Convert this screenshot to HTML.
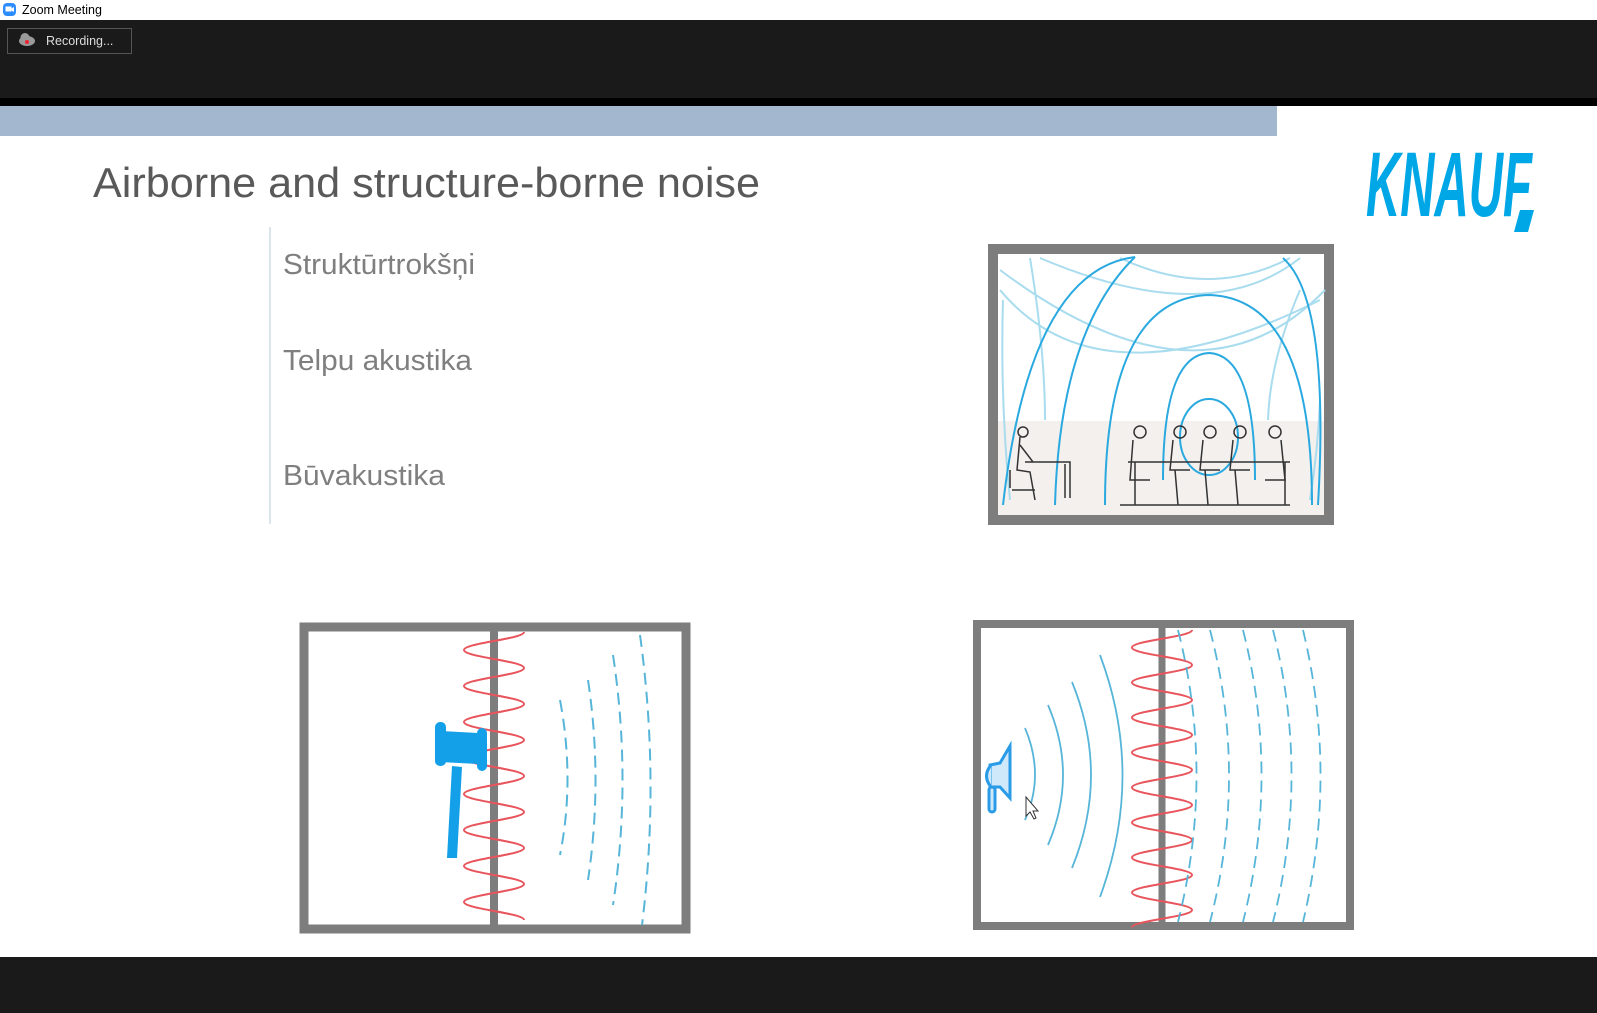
<!DOCTYPE html>
<html><head><meta charset="utf-8"><style>
html,body{margin:0;padding:0;width:1597px;height:1013px;overflow:hidden;background:#fff}
svg{display:block}
text{font-family:"Liberation Sans",sans-serif}
</style></head><body>
<svg width="1597" height="1013" viewBox="0 0 1597 1013" xmlns="http://www.w3.org/2000/svg">
<rect x="0" y="0" width="1597" height="20" fill="#fff"/>
<rect x="3" y="3" width="13" height="13" rx="4" fill="#2d8cff"/>
<rect x="5.5" y="6.5" width="6" height="5" fill="#fff"/><path d="M11.5 8.5 L14 7 L14 12 L11.5 10.5Z" fill="#fff"/>
<text x="22" y="14" font-size="12.5" fill="#000">Zoom Meeting</text>
<rect x="0" y="20" width="1597" height="78" fill="#1a1a1a"/>
<rect x="0" y="98" width="1597" height="8" fill="#000"/>
<rect x="7.5" y="28.5" width="124" height="25" fill="#1a1a1a" stroke="#555"/>
<ellipse cx="27" cy="41" rx="8" ry="5" fill="#9a9a9a"/><circle cx="25" cy="37.5" r="4.5" fill="#9a9a9a"/><circle cx="27" cy="42" r="2" fill="#e23"/>
<text x="46" y="45" font-size="12.5" fill="#ddd">Recording...</text>
<rect x="0" y="106" width="1277" height="30" fill="#a3b8cf"/>
<rect x="0" y="957" width="1597" height="56" fill="#1a1a1a"/>

<text x="93" y="197" font-size="42" fill="#595959" textLength="667" lengthAdjust="spacingAndGlyphs">Airborne and structure-borne noise</text>
<line x1="270" y1="227" x2="270" y2="524" stroke="#dbe6ec" stroke-width="2"/>
<text x="283" y="274" font-size="29" fill="#7f7f7f" textLength="192" lengthAdjust="spacingAndGlyphs">Struktūrtrokšņi</text>
<text x="283" y="370" font-size="29" fill="#7f7f7f" textLength="189" lengthAdjust="spacingAndGlyphs">Telpu akustika</text>
<text x="283" y="485" font-size="29" fill="#7f7f7f" textLength="162" lengthAdjust="spacingAndGlyphs">Būvakustika</text>

<text x="1366" y="216" font-size="92" font-weight="bold" font-style="italic" fill="#00a7e6" textLength="166" lengthAdjust="spacingAndGlyphs">KNAUF</text>
<path d="M1520 210 L1534 210 L1528 232 L1514 232Z" fill="#00a7e6"/>

<!-- top room -->
<rect x="993" y="249" width="336" height="271" fill="#fff" stroke="#7d7d7d" stroke-width="10"/>
<rect x="998" y="421" width="326" height="94" fill="#f4f0ee"/>
<g fill="none" stroke="#a8dcee" stroke-width="2">
<path d="M1000 290 Q1100 410 1320 300"/><path d="M1000 270 Q1200 420 1325 290"/>
<path d="M1040 258 Q1209 330 1300 258"/><path d="M1120 258 Q1209 300 1290 258"/>
<path d="M1030 258 Q1045 350 1045 420"/><path d="M1300 290 Q1270 360 1268 420"/>
<path d="M1320 400 Q1318 450 1310 500"/><path d="M1003 300 Q1000 400 1010 500"/>
</g>
<g fill="none" stroke="#29a9df" stroke-width="2">
<ellipse cx="1209" cy="437" rx="29" ry="38"/>
<path d="M1163 480 Q1163 355 1209 353 Q1255 355 1255 480"/>
<path d="M1105 505 Q1105 298 1209 295 Q1312 298 1312 505"/>
<path d="M1003 505 Q1030 270 1135 257"/>
<path d="M1283 258 Q1330 300 1318 505"/>
<path d="M1055 505 Q1060 330 1135 257"/>
</g>
<g fill="none" stroke="#333" stroke-width="1.5">
<circle cx="1023" cy="432" r="5"/><path d="M1020 437 L1017 470 L1030 472 L1035 500 M1020 445 L1033 462 L1065 462 M1025 462 L1070 462 L1070 498 M1010 470 L1010 488 M1012 490 L1035 490 M1065 464 L1065 498"/>
<path d="M1128 462 L1290 462 M1135 462 L1135 505 M1285 462 L1285 505 M1120 505 L1290 505"/>
<circle cx="1140" cy="432" r="6"/><circle cx="1180" cy="432" r="6"/><circle cx="1210" cy="432" r="6"/><circle cx="1240" cy="432" r="6"/><circle cx="1275" cy="432" r="6"/>
<path d="M1133 440 L1130 480 L1150 480 M1173 440 L1170 470 L1190 470 M1203 440 L1200 470 L1220 470 M1233 440 L1230 470 L1250 470 M1281 440 L1285 480 L1265 480 M1175 470 L1178 505 M1205 470 L1208 505 M1235 470 L1238 505"/>
</g>

<!-- bottom-left room -->
<rect x="304" y="627" width="382" height="302" fill="#fff" stroke="#7d7d7d" stroke-width="9"/>
<line x1="494" y1="627" x2="494" y2="925" stroke="#7d7d7d" stroke-width="8"/>
<path d="M524 632 c0 7 -60 11 -60 18 c0 7 60 11 60 18 c0 7 -60 11 -60 18 c0 7 60 11 60 18 c0 7 -60 11 -60 18 c0 7 60 11 60 18 c0 7 -60 11 -60 18 c0 7 60 11 60 18 c0 7 -60 11 -60 18 c0 7 60 11 60 18 c0 7 -60 11 -60 18 c0 7 60 11 60 18 c0 7 -60 11 -60 18 c0 7 60 11 60 18 c0 7 -60 11 -60 18 c0 7 60 11 60 18" fill="none" stroke="#e8555c" stroke-width="2"/>
<g fill="none" stroke="#56b5d8" stroke-width="2" stroke-dasharray="12 7">
<path d="M560 700 Q575 780 560 855"/><path d="M588 680 Q603 780 588 880"/>
<path d="M613 655 Q632 780 613 905"/><path d="M640 635 Q660 780 642 925"/>
</g>
<g fill="#14a0e8">
<rect x="435" y="722" width="11" height="44" rx="5"/>
<polygon points="441,731 478,733 478,764 440,762"/>
<rect x="477" y="728" width="10" height="43" rx="5"/>
<path d="M452 766 L462 767 L457 858 L447 858Z"/>
</g>

<!-- bottom-right room -->
<rect x="977" y="624" width="373" height="302" fill="#fff" stroke="#7d7d7d" stroke-width="8"/>
<line x1="1162" y1="624" x2="1162" y2="924" stroke="#7d7d7d" stroke-width="7"/>
<path d="M1192 630 c0 7 -60 10.5 -60 17.5 c0 7 60 10.5 60 17.5 c0 7 -60 10.5 -60 17.5 c0 7 60 10.5 60 17.5 c0 7 -60 10.5 -60 17.5 c0 7 60 10.5 60 17.5 c0 7 -60 10.5 -60 17.5 c0 7 60 10.5 60 17.5 c0 7 -60 10.5 -60 17.5 c0 7 60 10.5 60 17.5 c0 7 -60 10.5 -60 17.5 c0 7 60 10.5 60 17.5 c0 7 -60 10.5 -60 17.5 c0 7 60 10.5 60 17.5 c0 7 -60 10.5 -60 17.5 c0 7 60 10.5 60 17.5 c0 7 -60 10.5 -60 17.5" fill="none" stroke="#e8555c" stroke-width="2"/>
<g fill="none" stroke="#56b5d8" stroke-width="1.8">
<path d="M1025 728 Q1045 775 1025 820"/><path d="M1048 705 Q1078 775 1048 845"/>
<path d="M1072 682 Q1110 775 1072 868"/><path d="M1100 655 Q1145 775 1100 897"/>
</g>
<g fill="none" stroke="#56b5d8" stroke-width="1.8" stroke-dasharray="12 7">
<path d="M1178 630 Q1215 775 1178 922"/><path d="M1210 630 Q1248 775 1210 922"/>
<path d="M1243 630 Q1280 775 1243 922"/><path d="M1273 630 Q1310 775 1273 922"/>
<path d="M1303 630 Q1338 775 1303 922"/>
</g>
<g stroke="#2a9be6" stroke-width="3" fill="#cfe9fb">
<path d="M1010 746 L1010 798 L1000 787 L990 787 L990 765 L1000 763Z"/>
<path d="M991 787 Q982 776 991 765"/>
<rect x="989" y="787" width="6" height="25" rx="3"/>
</g>
<path d="M1026 797 L1026 816 L1030 812 L1034 819 L1036 818 L1033 811 L1038 811Z" fill="#fff" stroke="#333" stroke-width="1"/>
</svg>
</body></html>
